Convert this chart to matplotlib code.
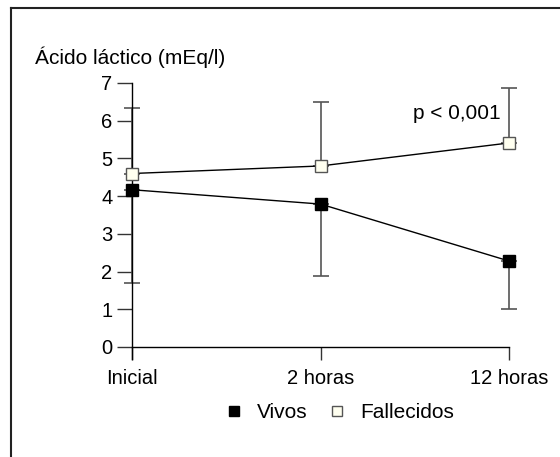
import numpy as np
import matplotlib.pyplot as plt
from matplotlib.lines import Line2D

plt.rcParams['font.family'] = ['Liberation Sans', 'DejaVu Sans']

momentos = ['Inicial', '2 horas', '12 horas']
vivos = [4.17, 3.79, 2.28]
vivos_min = [1.69, 1.89, 1.0]
fallecidos = [4.6, 4.8, 5.41]
fallecidos_max = [6.35, 6.49, 6.86]
y_ticks = [0, 1, 2, 3, 4, 5, 6, 7]

x = np.arange(len(momentos))
gris = '#555555'

fig = plt.figure(figsize=(5.6, 4.57), dpi=100)
ax = fig.add_axes([132 / 560, 1 - 347 / 457, 377 / 560, 264 / 457])

# marco exterior (solo izquierda y arriba)
fig.add_artist(Line2D([11 / 560, 11 / 560], [0, 1 - 8 / 457], color='#222222', lw=1.5))
fig.add_artist(Line2D([11 / 560, 1], [1 - 8 / 457, 1 - 8 / 457], color='#222222', lw=1.5))

v = np.array(vivos)
f = np.array(fallecidos)
yerr_v = [v - np.array(vivos_min), np.zeros(len(v))]
yerr_f = [np.zeros(len(f)), np.array(fallecidos_max) - f]

ax.errorbar(x, v, yerr=yerr_v, fmt='none', ecolor=gris, elinewidth=1.2,
            capsize=5.5, capthick=1.2, zorder=2, clip_on=False)
ax.errorbar(x, f, yerr=yerr_f, fmt='none', ecolor=gris, elinewidth=1.2,
            capsize=5.5, capthick=1.2, zorder=2, clip_on=False)

ax.plot(x, v, color='black', lw=1, marker='s', markersize=9,
        markerfacecolor='black', markeredgecolor='black', zorder=3, clip_on=False)
ax.plot(x, f, color='black', lw=1, marker='s', markersize=9,
        markerfacecolor='#fffff0', markeredgecolor=gris, markeredgewidth=1,
        zorder=3, clip_on=False)

ax.set_xlim(0, 2)
ax.set_ylim(0, 7)
ax.set_xticks(x)
ax.set_xticklabels(momentos, fontsize=14.5)
ax.set_yticks(y_ticks)
ax.set_yticklabels([str(t) for t in y_ticks], fontsize=14.5)
ax.tick_params(axis='y', direction='out', length=11, width=1, pad=3, color='#333333')
ax.tick_params(axis='x', direction='out', length=9.5, width=1, pad=6, color='#333333')
for s in ['top', 'right']:
    ax.spines[s].set_visible(False)
ax.spines['left'].set_bounds(-0.33, 7)
ax.spines['left'].set_linewidth(1)
ax.spines['bottom'].set_linewidth(1)

ax.text(1.957, 6.2, 'p < 0,001', ha='right', va='center', fontsize=15)
fig.text(35 / 560, 1 - 57 / 457, 'Ácido láctico (mEq/l)', ha='left', va='center', fontsize=15)

handles = [
    Line2D([], [], ls='none', marker='s', markersize=7, markerfacecolor='black',
           markeredgecolor='black'),
    Line2D([], [], ls='none', marker='s', markersize=7, markerfacecolor='#fffff0',
           markeredgecolor=gris, markeredgewidth=1),
]
fig.legend(handles, ['Vivos', 'Fallecidos'], loc='center', ncol=2,
           bbox_to_anchor=(339 / 560, 1 - 413 / 457), frameon=False, fontsize=15,
           handlelength=1, handletextpad=0.6, columnspacing=0.9)

fig.savefig('out.png', dpi=100)
